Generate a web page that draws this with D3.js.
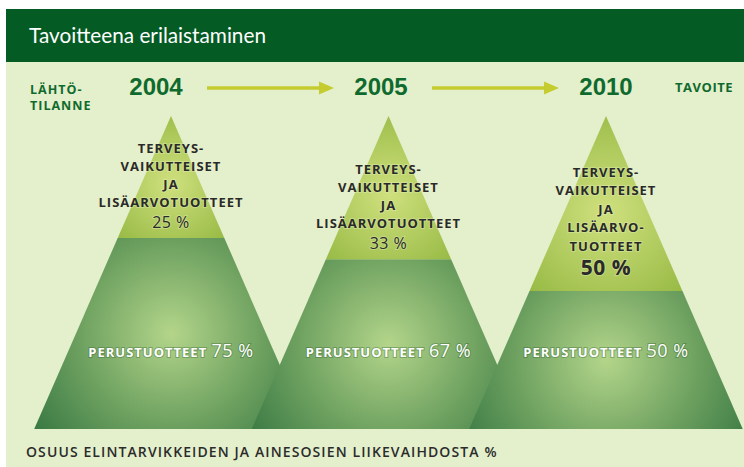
<!DOCTYPE html>
<html>
<head>
<meta charset="utf-8">
<script src="https://cdn.jsdelivr.net/npm/d3@7"></script>
<style>
  body { margin: 0; background: #fff; }
  svg text { font-family: "Open Sans", "Noto Sans", sans-serif; }
</style>
</head>
<body>
<div id="chart"></div>
<script>
// chart data
const title = "Tavoitteena erilaistaminen";
const years = ["2004", "2005", "2010"];
const startLabel = ["LÄHTÖ-", "TILANNE"];
const goalLabel = "TAVOITE";
const valueShares = [25, 33, 50];   // terveysvaikutteiset ja lisäarvotuotteet
const baseShares = [75, 67, 50];    // perustuotteet
const valueLabels = [
  ["TERVEYS-", "VAIKUTTEISET", "JA", "LISÄARVOTUOTTEET"],
  ["TERVEYS-", "VAIKUTTEISET", "JA", "LISÄARVOTUOTTEET"],
  ["TERVEYS-", "VAIKUTTEISET", "JA", "LISÄARVO-", "TUOTTEET"]
];
const baseLabel = "PERUSTUOTTEET";
const caption = "OSUUS ELINTARVIKKEIDEN JA AINESOSIEN LIIKEVAIHDOSTA %";

const width = 744, height = 467;
const apexY = 116, baseY = 429, slope = 0.437;

const svg = d3.select("#chart").append("svg")
  .attr("width", width)
  .attr("height", height);

const defs = svg.append("defs");

// frame
svg.append("rect").attr("x", 6).attr("y", 62).attr("width", width - 6).attr("height", height - 62).attr("fill", "#e4efcb");
svg.append("rect").attr("x", 6).attr("y", 9).attr("width", width - 6).attr("height", 53).attr("fill", "#045b24");
svg.append("text")
  .attr("x", 29).attr("y", 43)
  .attr("fill", "#fff")
  .style("font-family", "Lato, sans-serif")
  .style("font-size", "22px")
  .attr("textLength", 237)
  .attr("lengthAdjust", "spacingAndGlyphs")
  .text(title);

// scales
let x = d3.scalePoint().domain(years).range([171, 606]);
let xLabel = d3.scalePoint().domain(years).range([156, 606]);
let y = d3.scaleLinear().domain([0, 1]).range([apexY, baseY]);
let depth = d3.scaleLog().domain([25, 50]).range([122, 175]);

// header row
const green = "#0f6a2e";
svg.append("g").selectAll("text")
  .data(years).enter().append("text")
  .attr("x", (d) => xLabel(d))
  .attr("y", 95)
  .attr("text-anchor", "middle")
  .attr("fill", green)
  .style("font-family", "'Liberation Sans', sans-serif")
  .style("font-weight", "bold")
  .style("font-size", "24px")
  .text((d) => d);

svg.append("g").selectAll("text")
  .data(startLabel).enter().append("text")
  .attr("x", 30).attr("y", (d, i) => 94 + i * 16)
  .attr("fill", green)
  .style("font-weight", "bold").style("font-size", "12.5px").style("letter-spacing", "1px")
  .text((d) => d);

svg.append("text")
  .attr("x", 733).attr("y", 92)
  .attr("text-anchor", "end")
  .attr("fill", green)
  .style("font-weight", "bold").style("font-size", "13px").style("letter-spacing", "0.5px")
  .text(goalLabel);

// arrows between years
const arrowColor = "#c4cc2f";
const arrows = svg.append("g");
years.slice(0, -1).forEach(function(d, i) {
  let x0 = xLabel(d) + 51, x1 = xLabel(years[i + 1]) - 47;
  arrows.append("line")
    .attr("x1", x0).attr("x2", x1 - 12).attr("y1", 88).attr("y2", 88)
    .attr("stroke", arrowColor).attr("stroke-width", 3.5);
  arrows.append("path")
    .attr("d", `M${x1},88 L${x1 - 15},81.5 L${x1 - 15},94.5 Z`)
    .attr("fill", arrowColor);
});

// gradients
years.forEach(function(d, i) {
  let cx = x(d), split = apexY + depth(valueShares[i]);
  let top = defs.append("radialGradient").attr("id", "top" + i)
    .attr("gradientUnits", "userSpaceOnUse")
    .attr("cx", cx).attr("cy", apexY + (split - apexY) * 0.55).attr("r", (split - apexY) * 0.75);
  top.append("stop").attr("offset", 0).attr("stop-color", "#cfe07e");
  top.append("stop").attr("offset", 1).attr("stop-color", "#8db33a");
  let bot = defs.append("radialGradient").attr("id", "bot" + i)
    .attr("gradientUnits", "userSpaceOnUse")
    .attr("cx", cx).attr("cy", (split + baseY) / 2).attr("r", 165);
  bot.append("stop").attr("offset", 0).attr("stop-color", "#b3d58a");
  bot.append("stop").attr("offset", 0.55).attr("stop-color", "#6ea160");
  bot.append("stop").attr("offset", 1).attr("stop-color", "#3a7a44");
});

// pyramids
const pyramids = svg.append("g").selectAll("g")
  .data(years).enter().append("g");

pyramids.append("path")
  .attr("fill", (d, i) => `url(#bot${i})`)
  .attr("d", function(d, i) {
    let cx = x(d), s = depth(valueShares[i]), h = baseY - apexY;
    return `M${cx - s * slope},${apexY + s} L${cx + s * slope},${apexY + s} L${cx + h * slope},${baseY} L${cx - h * slope},${baseY} Z`;
  });

pyramids.append("path")
  .attr("fill", (d, i) => `url(#top${i})`)
  .attr("d", function(d, i) {
    let cx = x(d), s = depth(valueShares[i]);
    return `M${cx},${apexY} L${cx + s * slope},${apexY + s} L${cx - s * slope},${apexY + s} Z`;
  });

// top tier labels
pyramids.each(function(d, i) {
  let g = d3.select(this), cx = x(d);
  let split = apexY + depth(valueShares[i]);
  let lines = valueLabels[i];
  let big = valueShares[i] >= 50;
  let step = big ? 18.6 : 18;
  let last = split - (big ? 16 : 10);
  let firstLine = last - (big ? 24 : 21.5) - (lines.length - 1) * step;
  let t = g.append("g")
    .attr("text-anchor", "middle")
    .attr("fill", "#2a2a2a")
    .style("paint-order", "stroke")
    .attr("stroke", "rgba(235,245,200,0.35)").attr("stroke-width", 2);
  lines.forEach(function(l, j) {
    t.append("text").attr("x", cx).attr("y", firstLine + j * step)
      .style("font-weight", "bold").style("font-size", "13px").style("letter-spacing", "1px")
      .text(l);
  });
  t.append("text").attr("x", cx).attr("y", last)
    .style("font-weight", big ? "bold" : "normal")
    .style("font-size", big ? "21px" : "16px")
    .style("letter-spacing", "0.5px")
    .text(valueShares[i] + " %");
});

// bottom tier labels
const baseText = pyramids.append("text")
  .attr("x", (d) => x(d))
  .attr("y", y(0.77))
  .attr("text-anchor", "middle")
  .attr("fill", "#fff")
  .style("paint-order", "stroke")
  .attr("stroke", "rgba(40,90,40,0.35)").attr("stroke-width", 2);
baseText.append("tspan")
  .style("font-weight", "bold").style("font-size", "13px").style("letter-spacing", "1px")
  .text(baseLabel + " ");
baseText.append("tspan")
  .style("font-size", "18px").style("letter-spacing", "0.5px")
  .text((d, i) => baseShares[i] + " %");

// caption
svg.append("text")
  .attr("x", 26).attr("y", 457)
  .attr("fill", "#2b2b2b")
  .style("font-weight", 600).style("font-size", "14px").style("letter-spacing", "1.1px")
  .text(caption);
</script>
</body>
</html>
